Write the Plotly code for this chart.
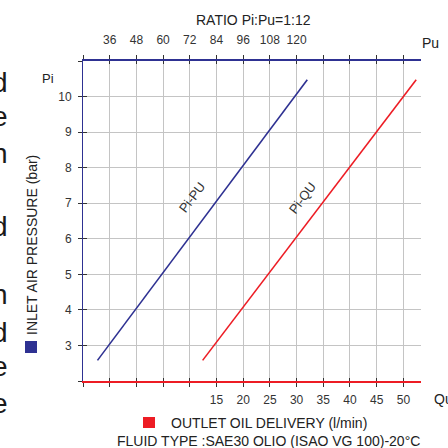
import plotly.graph_objects as go

# ---- data ----
pi_vals = [2.58, 10.47]            # inlet air pressure (bar)
pu_vals = [30.5, 124.8]            # Pi:Pu line (top axis)
qu_vals = [12.4, 52.4]             # Pi:QU line (bottom axis, l/min)

q_ticks = [-10, -5, 0, 5, 10, 15, 20, 25, 30, 35, 40, 45, 50]
q_text = ["", "", "", "", "", "15", "20", "25", "30", "35", "40", "45", "50"]
pu_ticks = [24, 36, 48, 60, 72, 84, 96, 108, 120, 132, 144, 156, 168]
pu_text = ["", "36", "48", "60", "72", "84", "96", "108", "120", "", "", "", ""]
pi_ticks = [2, 3, 4, 5, 6, 7, 8, 9, 10, 11]
pi_text = ["", "3", "4", "5", "6", "7", "8", "9", "10", ""]

q_range = [-10, 53.3]
pu_range = [24 + (q_range[0] + 10) * 2.4, 24 + (q_range[1] + 10) * 2.4]
pi_range = [2, 11]

NAVY = "#2e3192"
RED = "#ed1c24"
GRID = "#c4c4c4"
TXT = "#333333"
FONT = "Liberation Sans"

W, H = 448, 448
L, R, T, B = 83, 27, 61, 67


def px(xp):
    return (xp - L) / (W - L - R)


def py(yp):
    return (H - B - yp) / (H - T - B)


fig = go.Figure()
fig.add_trace(go.Scatter(x=pu_vals, y=pi_vals, xaxis="x2", yaxis="y", mode="lines",
                         line=dict(color=NAVY, width=1.6), showlegend=False, hoverinfo="skip"))
fig.add_trace(go.Scatter(x=qu_vals, y=pi_vals, xaxis="x", yaxis="y", mode="lines",
                         line=dict(color=RED, width=1.6), showlegend=False, hoverinfo="skip"))
# helper empty traces so that the overlay axes (inside tick marks) are drawn
fig.add_trace(go.Scatter(x=[None], y=[None], xaxis="x3", yaxis="y", showlegend=False, hoverinfo="skip"))
fig.add_trace(go.Scatter(x=[None], y=[None], xaxis="x4", yaxis="y", showlegend=False, hoverinfo="skip"))
fig.add_trace(go.Scatter(x=[None], y=[None], xaxis="x", yaxis="y2", showlegend=False, hoverinfo="skip"))

tickfont = dict(family=FONT, size=12, color=TXT)

fig.update_layout(
    width=W, height=H, margin=dict(l=L, r=R, t=T, b=B, autoexpand=False),
    paper_bgcolor="white", plot_bgcolor="white",
    xaxis=dict(range=q_range, tickvals=q_ticks, ticktext=q_text, showgrid=True,
               gridcolor=GRID, gridwidth=1, zeroline=False, showline=True,
               linecolor=RED, linewidth=2, ticks="outside", ticklen=4,
               tickcolor="#333333", tickwidth=1, tickfont=tickfont, ticklabelstandoff=3),
    xaxis2=dict(range=pu_range, tickvals=pu_ticks, ticktext=pu_text, overlaying="x",
                side="top", anchor="y", showgrid=False, zeroline=False, showline=True,
                linecolor=NAVY, linewidth=2, ticks="outside", ticklen=4,
                tickcolor="#333333", tickwidth=1, tickfont=tickfont, ticklabelstandoff=6),
    xaxis3=dict(range=q_range, tickvals=q_ticks, overlaying="x", side="bottom", anchor="y",
                showgrid=False, zeroline=False, showline=False, showticklabels=False,
                ticks="inside", ticklen=3, tickcolor="#333333", tickwidth=1),
    xaxis4=dict(range=q_range, tickvals=q_ticks, overlaying="x", side="top", anchor="y",
                showgrid=False, zeroline=False, showline=False, showticklabels=False,
                ticks="inside", ticklen=3, tickcolor="#333333", tickwidth=1),
    yaxis=dict(range=pi_range, tickvals=pi_ticks, ticktext=pi_text, showgrid=True,
               gridcolor=GRID, gridwidth=1, zeroline=False, showline=True,
               linecolor=NAVY, linewidth=1, ticks="outside", ticklen=4,
               tickcolor="#333333", tickwidth=1, tickfont=tickfont, ticklabelstandoff=4),
    yaxis2=dict(range=pi_range, tickvals=pi_ticks, overlaying="y", side="left", anchor="x",
                showgrid=False, zeroline=False, showline=False, showticklabels=False,
                ticks="inside", ticklen=4, tickcolor="#333333", tickwidth=1),
    showlegend=False,
)


def note(text, x, y, xanchor="center", size=14, color="#222222", **kw):
    d = dict(text=text, x=px(x), y=py(y), xref="paper", yref="paper", xanchor=xanchor,
             yanchor="middle", showarrow=False, font=dict(family=FONT, size=size, color=color))
    d.update(kw)
    return d


ann = [
    note("RATIO Pi:Pu=1:12", 253, 20),
    note("Pu", 430, 43),
    note("Qu", 432, 399, xanchor="left"),
    note("Pi", 48, 78, size=13),
    note("INLET AIR PRESSURE (bar)", 32, 245, size=14, textangle=-90),
    note("OUTLET OIL DELIVERY (l/min)", 169, 423, xanchor="left"),
    note("FLUID TYPE :SAE30 OLIO (ISAO VG 100)-20°C", 115, 441, xanchor="left", size=14),
    dict(text="Pi-PU", x=10.4, y=7.17, xref="x", yref="y", textangle=-53, showarrow=False,
         xanchor="center", yanchor="middle", font=dict(family=FONT, size=13, color=TXT)),
    dict(text="Pi-QU", x=31.2, y=7.15, xref="x", yref="y", textangle=-53, showarrow=False,
         xanchor="center", yanchor="middle", font=dict(family=FONT, size=13, color=TXT)),
]
# partial letters of neighbouring page text at the left edge
edge_letters = [("d", 82), ("e", 116), ("n", 153), ("d", 226), ("n", 294), ("d", 332), ("e", 366), ("e", 403)]
for ch, yy in edge_letters:
    ann.append(note(ch, 10, yy, xanchor="right", size=28, color="#1a1a1a"))
fig.update_layout(annotations=ann)

fig.add_shape(type="rect", xref="paper", yref="paper", x0=px(25), x1=px(37), y0=py(353), y1=py(341),
              fillcolor=NAVY, line=dict(width=0))
fig.add_shape(type="rect", xref="paper", yref="paper", x0=px(143), x1=px(155), y0=py(428), y1=py(417),
              fillcolor=RED, line=dict(width=0))

fig.write_html("out.html", config={"displayModeBar": False},
               post_script="document.body.style.margin='0';document.body.style.padding='0';")
